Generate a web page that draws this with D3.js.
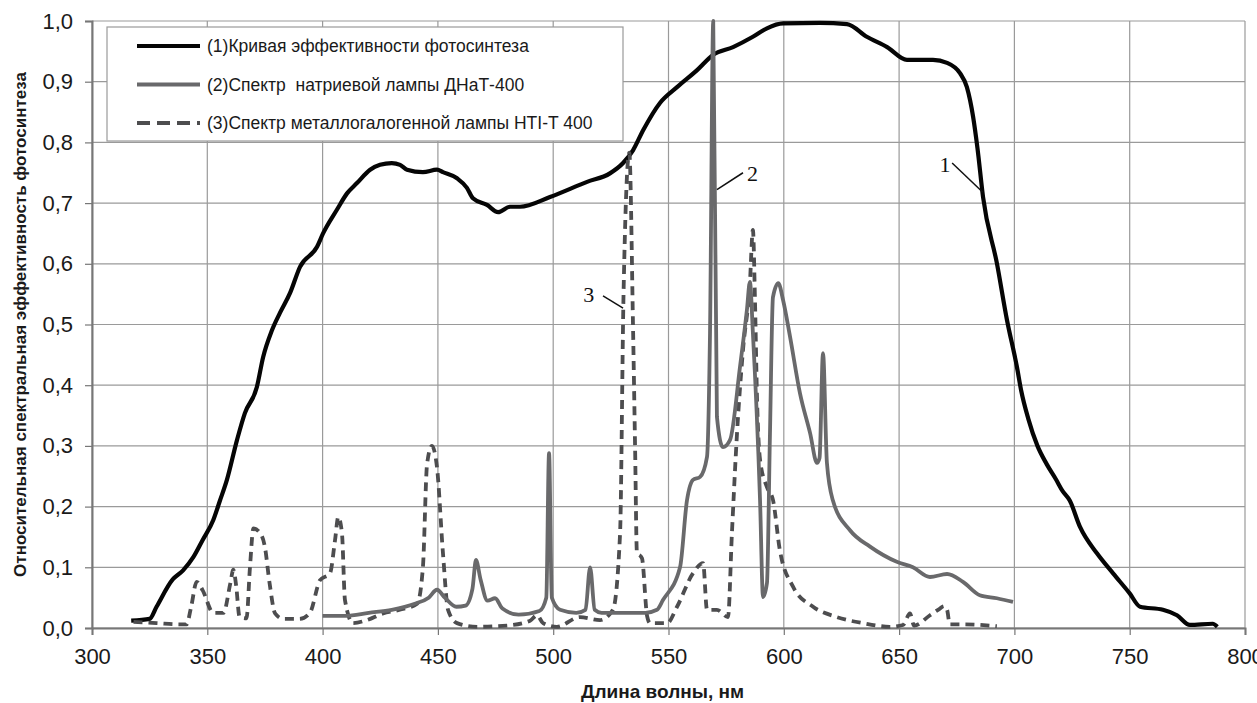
<!DOCTYPE html>
<html>
<head>
<meta charset="utf-8">
<script src="https://cdn.jsdelivr.net/npm/d3@7"></script>
<style>
  body { margin: 0; background: #fff; }
  text { font-family: Arial, "Liberation Sans", sans-serif; }
</style>
</head>
<body>
<div id="body"></div>
<script>
// (1) photosynthesis efficiency curve, [nm, value]
var curve1 = [
  [317, 0.012], [325, 0.015], [328, 0.035], [335, 0.08], [339.5, 0.095], [344, 0.117],
  [348, 0.145], [352.6, 0.178], [355.5, 0.21], [358.5, 0.244], [362.9, 0.31], [366.3, 0.354],
  [371.5, 0.397], [374.2, 0.446], [378, 0.49], [381.5, 0.519], [385.9, 0.552], [390.2, 0.595],
  [397.6, 0.628], [400.2, 0.65], [406.2, 0.689], [410.6, 0.716], [414.9, 0.733], [420.6, 0.755],
  [424.9, 0.763], [430, 0.766], [433.6, 0.763], [436.6, 0.755], [443.5, 0.751], [449.6, 0.755],
  [452.2, 0.751], [458.3, 0.741], [462.6, 0.725], [465.2, 0.708], [471.3, 0.697], [476.1, 0.685],
  [481.3, 0.694], [485.6, 0.694], [498.6, 0.71], [514.7, 0.735], [524.6, 0.749], [530.3, 0.766],
  [534.6, 0.787], [539, 0.82], [546.3, 0.865], [553.7, 0.891], [562.4, 0.919], [569.3, 0.944],
  [578, 0.957], [586.6, 0.974], [592.7, 0.988], [599.7, 0.996], [615.7, 0.997], [627.4, 0.995],
  [636, 0.974], [644.8, 0.957], [653.4, 0.936], [664.7, 0.936], [670.8, 0.931], [676.4, 0.914],
  [679.4, 0.891], [682.1, 0.842], [684, 0.79], [686.4, 0.71], [692.4, 0.601], [696.8, 0.507],
  [701.1, 0.43], [703, 0.39], [706, 0.345], [710, 0.3], [714, 0.27], [718, 0.245], [721, 0.225],
  [724, 0.21], [728.4, 0.167], [735.8, 0.123], [742.8, 0.09], [750, 0.057], [754.5, 0.035],
  [764.4, 0.03], [770.5, 0.021], [776.1, 0.005], [786, 0.007], [788, 0.002]
];

// (2) sodium lamp ДНаТ-400 spectrum
var curve2 = [
  [400, 0.02], [410, 0.02], [420, 0.025], [430, 0.03], [440, 0.04], [446, 0.05], [449.6, 0.063],
  [453, 0.05], [458, 0.035], [462, 0.037], [465, 0.065], [466.5, 0.112], [468.5, 0.08], [471.5, 0.045],
  [474.8, 0.049], [478, 0.032], [485, 0.022], [494, 0.028], [497, 0.05], [498.2, 0.288], [499.4, 0.05],
  [503, 0.03], [510, 0.025], [514, 0.03], [516, 0.1], [518, 0.03], [521, 0.025], [540, 0.025],
  [545, 0.03], [547.6, 0.046], [555, 0.1], [558, 0.21], [560.6, 0.244], [563.7, 0.249], [566.7, 0.282],
  [568, 0.486], [569.4, 1.0], [571, 0.348], [573.6, 0.298], [576.7, 0.31], [581, 0.43], [584, 0.524],
  [585.3, 0.57], [586.6, 0.486], [589.7, 0.21], [591, 0.051], [592.7, 0.074], [594, 0.32], [595.3, 0.545],
  [597.6, 0.568], [599.7, 0.54], [602.7, 0.48], [607, 0.387], [611.4, 0.321], [614.4, 0.272],
  [615.5, 0.28], [617, 0.453], [618.7, 0.272], [621.3, 0.21], [628.7, 0.161], [637.4, 0.134],
  [649, 0.109], [656, 0.1], [663.4, 0.084], [670.8, 0.089], [677.7, 0.076], [685, 0.054],
  [692.4, 0.049], [699.4, 0.043]
];

// (3) metal-halide lamp HTI-T 400 spectrum
var curve3 = [
  [318, 0.01], [328, 0.008], [338, 0.006], [341, 0.006], [343, 0.035], [345.4, 0.076], [348, 0.062],
  [352.6, 0.025], [357, 0.025], [360, 0.074], [361.3, 0.096], [362.5, 0.07], [364, 0.018], [367, 0.016],
  [368.5, 0.1], [370, 0.164], [373, 0.156], [375, 0.133], [377, 0.074], [379.4, 0.024], [383, 0.015],
  [390, 0.015], [394.5, 0.025], [398.9, 0.079], [403.2, 0.09], [405.4, 0.145], [406.8, 0.183],
  [408.4, 0.156], [409.7, 0.046], [413.2, 0.008], [419.2, 0.013], [426.2, 0.024], [433.5, 0.03],
  [441, 0.04], [443.5, 0.1], [445.3, 0.27], [447.4, 0.3], [449.6, 0.265], [452.2, 0.123], [454.4, 0.03],
  [458.3, 0.008], [467, 0.002], [480, 0.004], [490, 0.012], [493, 0.021], [495.6, 0.008], [501.6, 0.002],
  [511.6, 0.018], [520.3, 0.013], [525.9, 0.03], [529, 0.156], [530.5, 0.55], [533, 0.783],
  [534.6, 0.5], [535.5, 0.3], [536.3, 0.125], [538.5, 0.115], [540.7, 0.02], [542, 0.008],
  [549.4, 0.008], [553.7, 0.035], [560.6, 0.09], [565, 0.107], [566.7, 0.03], [571, 0.03],
  [575.8, 0.018], [577.5, 0.156], [579.7, 0.32], [582.3, 0.458], [585.3, 0.568], [586.6, 0.656],
  [587.5, 0.54], [588.4, 0.376], [589.7, 0.277], [592.7, 0.232], [595.3, 0.211], [598.3, 0.128],
  [604, 0.068], [612.7, 0.035], [623, 0.018], [634.3, 0.008], [646, 0.002], [651.7, 0.005],
  [654.7, 0.024], [656.5, 0.004], [663.4, 0.021], [667.7, 0.032], [669.5, 0.036], [670.8, 0.03],
  [672, 0.006], [677.7, 0.006], [692.4, 0.003]
];

var legendLabels = [
  "(1)Кривая эффективности фотосинтеза",
  "(2)Спектр  натриевой лампы ДНаТ-400",
  "(3)Спектр металлогалогенной лампы HTI-T 400"
];
var xTicks = [300, 350, 400, 450, 500, 550, 600, 650, 700, 750, 800];
var yTicks = [0, 0.1, 0.2, 0.3, 0.4, 0.5, 0.6, 0.7, 0.8, 0.9, 1.0];

var margin = { top: 21, right: 12, bottom: 75, left: 92 },
    width = 1257 - margin.left - margin.right,
    height = 703 - margin.top - margin.bottom;

var x = d3.scaleLinear().domain([300, 800]).range([0, width]);
var y = d3.scaleLinear().domain([0, 1]).range([height, 0]);

var svg = d3.select("#body").append("svg")
    .attr("width", 1257)
    .attr("height", 703)
    .append("g")
    .attr("transform", "translate(" + margin.left + "," + margin.top + ")");

// grid
svg.append("g").selectAll("line.gx")
    .data(xTicks)
    .enter().append("line")
    .attr("x1", d => x(d)).attr("x2", d => x(d))
    .attr("y1", 0).attr("y2", height)
    .style("stroke", "#9a9a9a").style("stroke-width", 1.2);

svg.append("g").selectAll("line.gy")
    .data(yTicks)
    .enter().append("line")
    .attr("x1", 0).attr("x2", width)
    .attr("y1", d => y(d)).attr("y2", d => y(d))
    .style("stroke", "#9a9a9a").style("stroke-width", 1.2);

var comma = d => d3.format(".1f")(d).replace(".", ",");

var xAxis = svg.append("g")
    .attr("transform", "translate(0," + height + ")")
    .call(d3.axisBottom(x).tickValues(xTicks).tickSize(7).tickPadding(13).tickFormat(d3.format("d")));

var yAxis = svg.append("g")
    .call(d3.axisLeft(y).tickValues(yTicks).tickSize(7).tickPadding(12).tickFormat(comma));

[xAxis, yAxis].forEach(a => {
    a.select(".domain").style("stroke", "#777").style("stroke-width", 2);
    a.selectAll(".tick line").style("stroke", "#777").style("stroke-width", 1.2);
    a.selectAll(".tick text")
        .style("font-size", "22px")
        .style("font-family", "Arial, 'Liberation Sans', sans-serif")
        .style("fill", "#1a1a1a");
});

// axis titles
svg.append("text")
    .attr("x", x(550) - 6)
    .attr("y", height + 70)
    .attr("text-anchor", "middle")
    .style("font-size", "19px")
    .style("font-weight", "bold")
    .style("fill", "#1a1a1a")
    .text("Длина волны, нм");

svg.append("text")
    .attr("transform", "translate(" + (-66) + "," + (y(0.5)) + ") rotate(-90)")
    .attr("text-anchor", "middle")
    .style("font-size", "17px")
    .style("font-weight", "bold")
    .style("fill", "#1a1a1a")
    .text("Относительная спектральная эффективность фотосинтеза");

var line = d3.line()
    .x(d => x(d[0]))
    .y(d => y(d[1]))
    .curve(d3.curveMonotoneX);

svg.append("path")
    .datum(curve1)
    .attr("d", line)
    .style("fill", "none").style("stroke", "#050505").style("stroke-width", 4.2)
    .style("stroke-linejoin", "round");

svg.append("path")
    .datum(curve3)
    .attr("d", line)
    .style("fill", "none").style("stroke", "#4d4d4f").style("stroke-width", 3.8)
    .style("stroke-dasharray", "9,6").style("stroke-linejoin", "round");

svg.append("path")
    .datum(curve2)
    .attr("d", line)
    .style("fill", "none").style("stroke", "#69696b").style("stroke-width", 3.8)
    .style("stroke-linejoin", "round");

// legend
var legend = svg.append("g").attr("transform", "translate(15,6)");

legend.append("rect")
    .attr("width", 516).attr("height", 114)
    .style("fill", "#fff").style("stroke", "#9a9a9a").style("stroke-width", 1.2);

var legendStyles = [
    { stroke: "#050505", dash: null },
    { stroke: "#69696b", dash: null },
    { stroke: "#4d4d4f", dash: "13,7" }
];

legendLabels.forEach((label, i) => {
    var ly = 19 + i * 38.5;
    legend.append("line")
        .attr("x1", 30).attr("x2", 93)
        .attr("y1", ly).attr("y2", ly)
        .style("stroke", legendStyles[i].stroke)
        .style("stroke-width", 4)
        .style("stroke-dasharray", legendStyles[i].dash);
    legend.append("text")
        .attr("x", 100).attr("y", ly + 6)
        .style("font-size", "17.5px")
        .style("white-space", "pre")
        .style("fill", "#1a1a1a")
        .text(label);
});

// curve number callouts
var callouts = [
    { label: "1", tx: 667.5, ty: 0.751, lx: 673, ly: 0.766, px: 686.3, py: 0.718 },
    { label: "2", tx: 584, ty: 0.736, lx: 582.3, ly: 0.75, px: 571, py: 0.722 },
    { label: "3", tx: 513, ty: 0.537, lx: 521.6, ly: 0.547, px: 530.3, py: 0.527 }
];

callouts.forEach(c => {
    svg.append("line")
        .attr("x1", x(c.lx)).attr("y1", y(c.ly))
        .attr("x2", x(c.px)).attr("y2", y(c.py))
        .style("stroke", "#111").style("stroke-width", 1.5);
    svg.append("text")
        .attr("x", x(c.tx)).attr("y", y(c.ty))
        .style("font-family", "'Liberation Serif', 'DejaVu Serif', serif")
        .style("font-size", "22px")
        .style("fill", "#111")
        .text(c.label);
});
</script>
</body>
</html>
